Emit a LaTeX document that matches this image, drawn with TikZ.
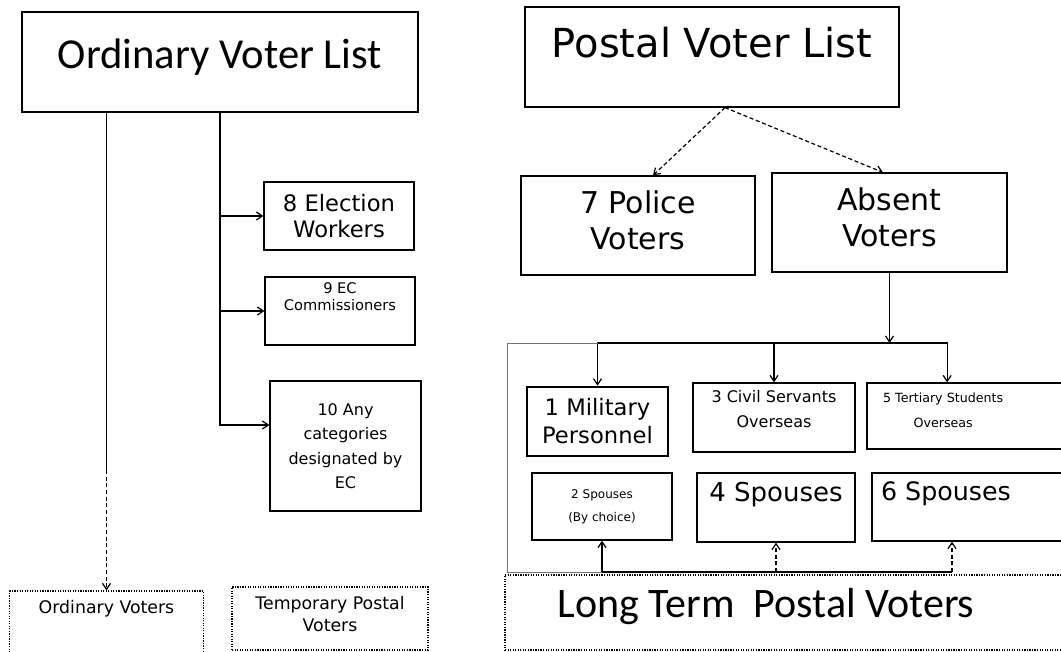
\documentclass[tikz,border=0pt]{standalone}
\usepackage{fontspec}
\setmainfont{DejaVu Sans}
\newfontfamily\calibri{Carlito}
\usetikzlibrary{arrows.meta}

\begin{document}
\begin{tikzpicture}[
  x=0.75pt, y=-0.75pt,
  box/.style={draw=black, line width=0.9pt, align=center, inner sep=2pt},
  dotbox/.style={draw=black, densely dotted, line width=0.9pt, align=center, inner sep=2pt},
  arrow/.style={-{Straight Barb[length=4.5pt,width=6pt]}, line width=0.9pt, draw=black},
  dotarrow/.style={arrow, densely dashed},
  bracket/.style={draw=black!55, line width=0.6pt}
]
\useasboundingbox (0,0) rectangle (1061,651);
\clip (0,0) rectangle (1061,651);

% Ordinary voter list and its branches.
\node[box, minimum width=297pt, minimum height=75pt, font=\calibri\fontsize{32}{36}\selectfont, text depth=12.8pt] (ovl) at (220,62) {Ordinary Voter List};
\node[box, minimum width=112.5pt, minimum height=51pt, font=\fontsize{17}{19}\selectfont] (elw) at (339,216) {8 Election\\Workers};
\node[box, minimum width=112.5pt, minimum height=51pt, font=\fontsize{11}{12.75}\selectfont, text depth=21.5pt] (ecc) at (340,311) {9 EC\\Commissioners};
\node[box, minimum width=113.25pt, minimum height=97.5pt, font=\fontsize{12}{18.4}\selectfont] (any) at (345.5,446) {10 Any\\categories\\designated by\\EC};
\node[dotbox, minimum width=145pt, minimum height=48.75pt, font=\fontsize{13}{16}\selectfont, text depth=25.4pt] (ordv) at (106.5,623.5) {Ordinary Voters};
\node[dotbox, minimum width=147pt, minimum height=47.25pt, font=\fontsize{13}{16.5}\selectfont, text depth=6.8pt] (tpv) at (330,618.5) {Temporary Postal\\Voters};

\coordinate (ordbrk) at (106.5,470);
\draw[line width=0.9pt] (ovl.south -| ordv.north) -- (ordbrk);
\draw[dotarrow] (ordbrk) -- (ordv.north);
\draw[arrow] (ovl.south) |- (elw.west);
\draw[arrow] (ovl.south) |- (ecc.west);
\draw[arrow] (ovl.south) |- ([yshift=15.75pt]any.west);

% Postal voter list.
\node[box, minimum width=280.5pt, minimum height=75pt, font=\fontsize{30}{36}\selectfont, text depth=22pt] (pvl) at (712,57) {Postal Voter List};
\node[box, minimum width=175.5pt, minimum height=74.25pt, font=\fontsize{22.5}{27.5}\selectfont, text depth=8pt] (pol) at (638,225.5) {7 Police\\Voters};
\node[box, minimum width=176.25pt, minimum height=74.25pt, font=\fontsize{22.5}{27.5}\selectfont, text depth=8pt] (abs) at (889.5,222.5) {Absent\\Voters};
\draw[dotarrow] ([xshift=9.75pt]pvl.south) -- ([xshift=11.25pt]pol.north);
\draw[dotarrow] ([xshift=9.75pt]pvl.south) -- ([xshift=-4.9pt]abs.north);

% Absent voter categories.
\node[box, line width=1.9pt, minimum width=105.75pt, minimum height=51.75pt, font=\fontsize{17}{21}\selectfont] (mil) at (597.5,421.5) {1 Military\\Personnel};
\node[box, minimum width=121.5pt, minimum height=51.75pt, font=\fontsize{12}{18.75}\selectfont, text depth=12.8pt] (civ) at (774,417.5) {3 Civil Servants\\Overseas};
\node[box, minimum width=152.25pt, minimum height=49.5pt, font=\fontsize{9.5}{18.75}\selectfont, text depth=8.2pt] (ter) at (968.5,416) {5 Tertiary Students\hspace*{38pt}\\Overseas\hspace*{38pt}};
\node[box, minimum width=105pt, minimum height=50.25pt, font=\fontsize{9}{17.25}\selectfont] (sp2) at (602,506.5) {2 Spouses\\(By choice)};
\node[box, minimum width=118.5pt, minimum height=51.75pt, font=\fontsize{19.5}{23}\selectfont, text depth=24pt] (sp4) at (776,507.5) {4 Spouses};
\node[box, minimum width=148.5pt, minimum height=51pt, font=\fontsize{19}{23}\selectfont, text depth=24pt] (sp6) at (971,507) {6 Spouses\hspace*{37.5pt}};
\node[dotbox, minimum width=431.25pt, minimum height=56.25pt, font=\calibri\fontsize{31.5}{36}\selectfont, text depth=15pt] (ltpv) at (792.5,612.5) {Long Term\ \ Postal Voters\hspace*{39.75pt}};

\coordinate (bus) at (889.5,343);
\draw[arrow] (abs.south) -- (bus);
\draw[arrow] (bus) -| (mil.north);
\draw[arrow] (bus) -| (civ.north);
\draw[arrow] (bus) -| ([xshift=-16pt]ter.north);

% Long term bracket feeding the spouses.
\coordinate (lt) at (507,343);
\coordinate (lb) at (507,572);
\coordinate (sp6in) at ([xshift=-14.25pt]sp6.south);
\draw[bracket] (mil.north |- bus) -- (lt) -- (lb) -- (lb -| sp2.south);
\draw[line width=0.9pt] (lb -| sp2.south) -- (lb -| sp6in);
\draw[arrow] (lb -| sp2.south) -- (sp2.south);
\draw[dotarrow] (lb -| sp4.south) -- (sp4.south);
\draw[dotarrow] (lb -| sp6in) -- (sp6in);

\end{tikzpicture}
\end{document}
